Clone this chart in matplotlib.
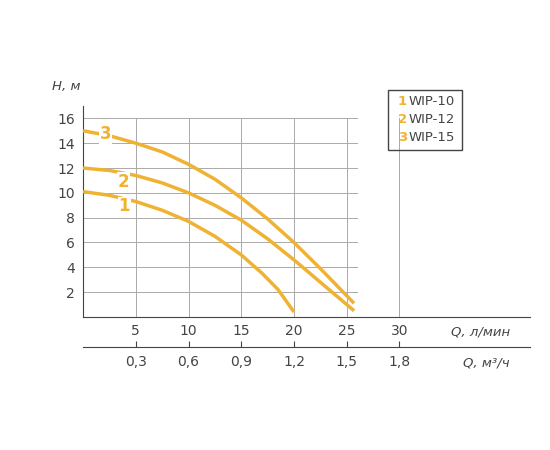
import matplotlib
matplotlib.use("Agg")
import matplotlib.pyplot as plt

q1 = [0, 2.5, 5, 7.5, 10, 12.5, 15, 17, 18.5, 20]
h1 = [10.1, 9.8, 9.3, 8.6, 7.7, 6.5, 5.0, 3.5, 2.2, 0.4]
q2 = [0, 2.5, 5, 7.5, 10, 12.5, 15, 17.5, 20, 22.5, 25.7]
h2 = [12.0, 11.8, 11.4, 10.8, 10.0, 9.0, 7.8, 6.3, 4.6, 2.8, 0.5]
q3 = [0, 2.5, 5, 7.5, 10, 12.5, 15, 17.5, 20, 22.5, 25.7]
h3 = [15.0, 14.6, 14.0, 13.3, 12.3, 11.1, 9.6, 7.9, 6.0, 3.9, 1.1]
labels_num = ["1", "2", "3"]
names = ["WIP-10", "WIP-12", "WIP-15"]
xticks = [5, 10, 15, 20, 25, 30]
yticks = [2, 4, 6, 8, 10, 12, 14, 16]
m3ticks = [0.3, 0.6, 0.9, 1.2, 1.5, 1.8]
orange = "#f0b232"
grey = "#444444"

fig = plt.figure(figsize=(5.5, 4.5), dpi=100)
ax = fig.add_axes([0.151, 0.2956, 0.813, 0.469])
ax.set_xlim(0, 42.4)
ax.set_ylim(0, 17)
for s in ["top", "right"]:
    ax.spines[s].set_visible(False)
for s in ["left", "bottom"]:
    ax.spines[s].set_color(grey)
for x in xticks:
    ax.plot([x, x], [0, 16], color="#aaaaaa", lw=0.7, zorder=1)
for y in yticks:
    ax.plot([0, 26], [y, y], color="#aaaaaa", lw=0.7, zorder=1)

for q, h in [(q1, h1), (q2, h2), (q3, h3)]:
    ax.plot(q, h, color=orange, lw=2.5, zorder=3, solid_capstyle="butt")

# curve number labels
ax.text(3.9, 8.9, "1", color=orange, fontsize=12, fontweight="bold", ha="center", va="center", zorder=4,
        bbox=dict(fc="white", ec="none", pad=0.5))
ax.text(3.8, 10.9, "2", color=orange, fontsize=12, fontweight="bold", ha="center", va="center", zorder=4,
        bbox=dict(fc="white", ec="none", pad=0.5))
ax.text(2.1, 14.7, "3", color=orange, fontsize=12, fontweight="bold", ha="center", va="center", zorder=4,
        bbox=dict(fc="white", ec="none", pad=0.5))

ax.set_xticks(xticks)
ax.set_xticklabels([str(x) for x in xticks], color=grey, fontsize=10)
ax.set_yticks(yticks)
ax.set_yticklabels([str(y) for y in yticks], color=grey, fontsize=10)
ax.tick_params(axis="x", length=0, pad=5)
ax.tick_params(axis="y", length=0, pad=6)
ax.text(0.955, -0.04, "Q, л/мин", transform=ax.transAxes, fontsize=9.5, style="italic",
        color=grey, ha="right", va="top")
fig.text(0.095, 0.80, "H, м", fontsize=9.5, style="italic", color=grey)

sec = ax.secondary_xaxis(-0.142, functions=(lambda x: x * 0.06, lambda x: x / 0.06))
sec.set_xticks(m3ticks)
sec.set_xticklabels([f"{v:.1f}".replace(".", ",") for v in m3ticks], color=grey, fontsize=10)
sec.tick_params(length=4, direction="in", color=grey, pad=6)
sec.spines["bottom"].set_color(grey)
ax.text(0.955, -0.185, "Q, м³/ч", transform=ax.transAxes, fontsize=9.5, style="italic",
        color=grey, ha="right", va="top")

# legend box
lx, ly = 0.705, 0.80
fig.patches.append(plt.Rectangle((lx, 0.667), 0.135, 0.133, transform=fig.transFigure,
                                 fill=False, ec=grey, lw=1))
for i, (n, nm) in enumerate(zip(labels_num, names)):
    yy = 0.775 - i * 0.04
    fig.text(lx + 0.018, yy, n, color=orange, fontsize=9.5, fontweight="bold", va="center")
    fig.text(lx + 0.038, yy, nm, color=grey, fontsize=9.5, va="center")

fig.savefig("out.png", dpi=100)
